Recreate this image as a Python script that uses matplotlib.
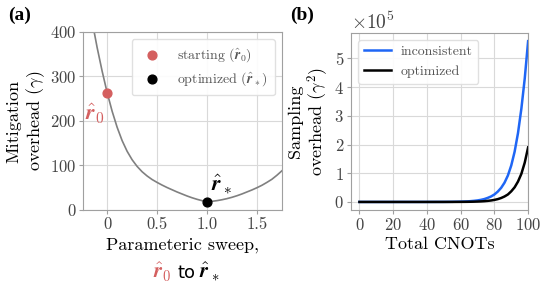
import matplotlib
matplotlib.use("Agg")
import matplotlib.pyplot as plt
import numpy as np

# panel (a): parametric sweep values
sweep_x = [-0.2, -0.15, -0.1, -0.05, 0.0, 0.05, 0.1, 0.15, 0.2, 0.25, 0.3, 0.35,
           0.4, 0.45, 0.5, 0.55, 0.6, 0.65, 0.7, 0.75, 0.8, 0.85, 0.9, 0.95,
           1.0, 1.05, 1.1, 1.15, 1.2, 1.25, 1.3, 1.35, 1.4, 1.45, 1.5, 1.55,
           1.6, 1.65, 1.7, 1.75]
sweep_y = [490, 424, 365, 312, 264, 222, 186, 156, 132, 113, 98, 86,
           76.5, 68.5, 62, 56, 50.5, 45.5, 40.5, 36, 31.5, 27.5, 24, 21,
           19, 19.5, 21, 23, 25.5, 28.5, 32, 36, 40.5, 45, 50, 55.5,
           62, 69, 78, 88]
start_pt = (0.0, 264)
opt_pt = (1.0, 19)

# panel (b): sampling overhead vs total CNOTs (in units of 1e5)
cnots = [0, 10, 20, 30, 40, 50, 55, 60, 62, 64, 66, 68, 70, 72, 74, 76, 78,
         80, 82, 84, 86, 88, 90, 92, 94, 96, 98, 100]
inconsistent = [0, 0, 0, 0.0001, 0.0005, 0.002, 0.005, 0.011, 0.015, 0.02,
                0.028, 0.039, 0.053, 0.073, 0.1, 0.14, 0.19, 0.26, 0.36, 0.49,
                0.67, 0.92, 1.27, 1.75, 2.4, 3.25, 4.3, 5.6]
optimized = [0, 0, 0, 0, 0.0001, 0.0004, 0.001, 0.0027, 0.0037, 0.005, 0.007,
             0.01, 0.014, 0.019, 0.026, 0.037, 0.051, 0.071, 0.098, 0.137,
             0.19, 0.26, 0.37, 0.51, 0.71, 0.98, 1.37, 1.9]

RED = "#d45f5f"
BLUE = "#1f66f5"

plt.rcParams["font.family"] = "cmr10"
plt.rcParams["mathtext.fontset"] = "cm"
plt.rcParams["axes.unicode_minus"] = False
plt.rcParams["axes.formatter.use_mathtext"] = True

fig = plt.figure(figsize=(5.4, 2.83), dpi=100)
ax1 = fig.add_axes([0.154, 0.258, 0.368, 0.629])
ax2 = fig.add_axes([0.650, 0.258, 0.328, 0.625])


def style(ax):
    ax.grid(True, color="#d9d9d9", lw=0.8)
    ax.set_axisbelow(True)
    for s in ax.spines.values():
        s.set_color("#a0a0a0")
    ax.tick_params(labelsize=12, labelcolor="#444444", color="#a0a0a0",
                   length=3, pad=2)


# --- (a)
style(ax1)
ax1.plot(sweep_x, sweep_y, color="#808080", lw=1.2, zorder=2)
ax1.scatter(*start_pt, s=40, color=RED, zorder=3, label=r"starting ($\hat{\boldsymbol{r}}_0$)")
ax1.scatter(*opt_pt, s=40, color="black", zorder=3, label=r"optimized ($\hat{\boldsymbol{r}}_*$)")
ax1.set_xlim(-0.24, 1.75)
ax1.set_ylim(0, 400)
ax1.set_xticks([0, 0.5, 1.0, 1.5])
ax1.set_xticklabels(["0", "0.5", "1.0", "1.5"])
ax1.set_yticks([0, 100, 200, 300, 400])
ax1.set_ylabel("Mitigation\noverhead ($\\gamma$)", fontsize=13, labelpad=2)
ax1.set_xlabel("Parameteric sweep,", fontsize=13, labelpad=4)
leg = ax1.legend(loc="upper right", fontsize=10, borderpad=0.5,
                 framealpha=0.9, edgecolor="#dddddd")
for t in leg.get_texts():
    t.set_color("#555555")
ax1.text(-0.03, 215, r"$\hat{\boldsymbol{r}}_0$", color=RED, fontsize=16,
         ha="right", va="center")
ax1.text(1.04, 32, r"$\hat{\boldsymbol{r}}_*$", color="black", fontsize=16,
         ha="left", va="bottom")

# second line of the x label, two colours
fig.text(153 / 540, 1 - 278 / 283, r"$\hat{\boldsymbol{r}}_0$", color=RED,
         fontsize=15, ha="left", va="baseline")
fig.text(178 / 540, 1 - 278 / 283, "to", color="black", fontsize=13,
         family="DejaVu Sans", ha="left", va="baseline")
fig.text(199 / 540, 1 - 278 / 283, r"$\hat{\boldsymbol{r}}_*$", color="black",
         fontsize=15, ha="left", va="baseline")

# --- (b)
style(ax2)
ax2.plot(cnots, np.array(inconsistent) * 1e5, color=BLUE, lw=1.8, label="inconsistent")
ax2.plot(cnots, np.array(optimized) * 1e5, color="black", lw=1.8, label="optimized")
ax2.set_xlim(-5, 100)
ax2.set_xticks([0, 20, 40, 60, 80, 100])
ax2.set_yticks(np.arange(0, 6) * 1e5)
ax2.ticklabel_format(axis="y", style="sci", scilimits=(0, 0), useMathText=True)
ax2.yaxis.get_offset_text().set_fontsize(14)
ax2.set_xlabel("Total CNOTs", fontsize=13, labelpad=3)
ax2.set_ylabel("Sampling\noverhead ($\\gamma^2$)", fontsize=13, labelpad=2)
leg2 = ax2.legend(loc="upper left", fontsize=10, handlelength=2.0,
                  handletextpad=0.7, framealpha=0.9, edgecolor="#dddddd")
for t in leg2.get_texts():
    t.set_color("#555555")

fig.text(8 / 540, 1 - 20 / 283, "(a)", fontsize=14, fontweight="bold",
         family="Liberation Serif")
fig.text(290 / 540, 1 - 20 / 283, "(b)", fontsize=14, fontweight="bold",
         family="Liberation Serif")

fig.savefig("out.png", dpi=100)
